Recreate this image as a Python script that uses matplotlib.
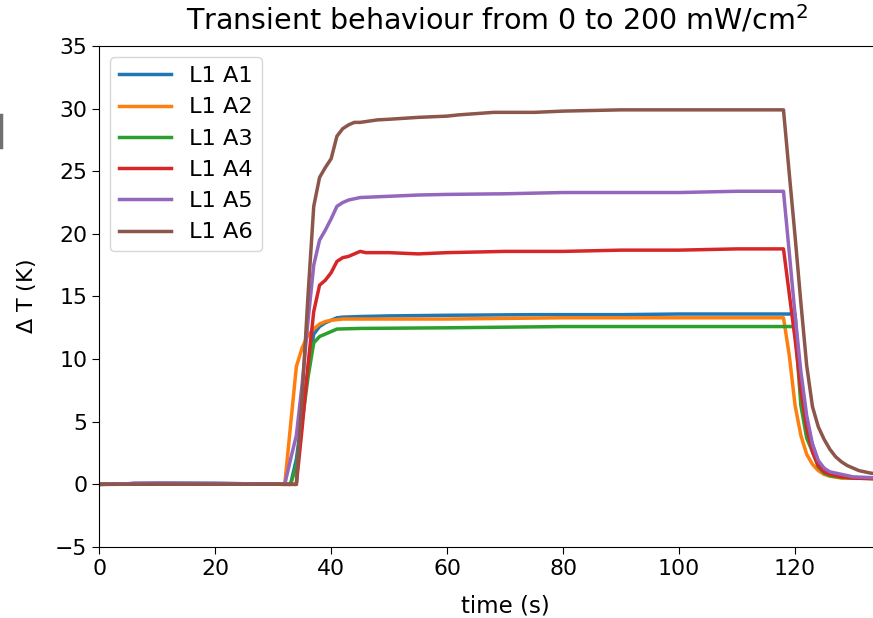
import matplotlib
matplotlib.use('Agg')
import matplotlib.pyplot as plt
from matplotlib.lines import Line2D

# datos (tiempo en s, Delta T en K)
t_a1 = [0, 5, 10, 20, 30, 33, 34, 35, 36, 37, 38, 39, 40, 41, 42, 45, 50, 60, 75, 90, 100, 110, 120,
        121, 122, 123, 124, 125, 126, 128, 130, 135]
a1 = [0, 0.05, 0.1, 0.08, 0.02, 0, 2, 5.5, 9, 12.0, 12.6, 12.9, 13.1, 13.3, 13.35, 13.4, 13.45, 13.5,
      13.55, 13.55, 13.6, 13.6, 13.6, 7.5, 4.6, 3.2, 1.8, 1.0, 0.8, 0.6, 0.5, 0.45]

t_a2 = [0, 5, 10, 20, 30, 32, 34, 35, 36, 37, 38, 39, 40, 42, 45, 60, 80, 100, 118,
        119, 120, 121, 122, 123, 124, 125, 126, 128, 135]
a2 = [0, 0.03, 0.05, 0.05, 0.02, 0, 9.4, 10.9, 11.9, 12.4, 12.8, 13.0, 13.1, 13.2, 13.2, 13.2, 13.3,
      13.3, 13.3, 10.3, 6.3, 3.9, 2.4, 1.6, 1.1, 0.8, 0.65, 0.5, 0.45]

t_a3 = [0, 10, 20, 30, 33, 34, 35, 36, 37, 38, 39, 40, 41, 45, 60, 80, 100, 120,
        121, 122, 123, 124, 125, 126, 128, 135]
a3 = [0, 0.05, 0.05, 0.02, 0, 1.5, 5, 8.5, 11.3, 11.8, 12.0, 12.2, 12.4, 12.45, 12.5, 12.6, 12.6, 12.6,
      6.3, 3.7, 2.6, 1.4, 0.9, 0.7, 0.55, 0.45]

t_a4 = [0, 10, 20, 30, 34, 35, 36, 37, 38, 39, 40, 41, 42, 43, 44, 45, 46, 50, 55, 60, 70, 80, 90,
        100, 110, 118, 119, 120, 121, 122, 123, 124, 125, 126, 128, 130, 135]
a4 = [0, 0.02, 0.03, 0.01, 0, 4.5, 9.5, 13.8, 15.9, 16.3, 16.9, 17.8, 18.1, 18.2, 18.4, 18.6, 18.5,
      18.5, 18.4, 18.5, 18.6, 18.6, 18.7, 18.7, 18.8, 18.8, 15.2, 11.6, 7.5, 4.5, 2.6, 1.5, 1.0, 0.8,
      0.6, 0.5, 0.45]

t_a5 = [0, 5, 6, 10, 20, 30, 32, 33, 34, 35, 36, 37, 38, 39, 40, 41, 42, 43, 45, 50, 55, 60, 70, 80,
        90, 100, 110, 118, 119, 120, 121, 122, 123, 124, 125, 126, 128, 130, 135]
a5 = [0, 0.05, 0.1, 0.1, 0.08, 0.02, 0, 2, 3.9, 8, 13, 17.5, 19.5, 20.3, 21.2, 22.2, 22.5, 22.7, 22.9,
      23.0, 23.1, 23.15, 23.2, 23.3, 23.3, 23.3, 23.4, 23.4, 18.5, 13.5, 9, 5.5, 3.2, 1.9, 1.3, 1.0,
      0.8, 0.6, 0.5]

t_a6 = [0, 10, 20, 30, 34, 35, 36, 37, 38, 39, 40, 41, 42, 43, 44, 45, 48, 50, 55, 60, 62, 65, 68,
        70, 75, 80, 90, 100, 110, 118, 119, 120, 121, 122, 123, 124, 125, 126, 127, 128, 129, 130,
        131, 132, 133, 135]
a6 = [0, 0.02, 0.02, 0.01, 0, 7, 15, 22.2, 24.5, 25.3, 26.0, 27.8, 28.4, 28.7, 28.9, 28.9, 29.1,
      29.15, 29.3, 29.4, 29.5, 29.6, 29.7, 29.7, 29.7, 29.8, 29.9, 29.9, 29.9, 29.9, 24.8, 19.8,
      14.5, 9.5, 6.2, 4.6, 3.6, 2.8, 2.2, 1.8, 1.5, 1.3, 1.1, 1.0, 0.9, 0.8]

series = [(t_a1, a1, 'L1 A1'), (t_a2, a2, 'L1 A2'), (t_a3, a3, 'L1 A3'),
          (t_a4, a4, 'L1 A4'), (t_a5, a5, 'L1 A5'), (t_a6, a6, 'L1 A6')]

fig = plt.figure(figsize=(8.73, 6.18), dpi=100)
# el eje se sale por la derecha, como en la figura recortada
ax = fig.add_axes([0.1136, 0.1149, 0.93, 0.8107])

for t, y, lab in series:
    ax.plot(t, y, lw=2.5, label=lab)

ax.set_xlim(0, 140)
ax.set_ylim(-5, 35)
ax.set_xticks([0, 20, 40, 60, 80, 100, 120])
ax.set_yticks(range(-5, 36, 5))
ax.tick_params(labelsize=15.8, length=5)
ax.set_xlabel('time (s)', fontsize=16.5, labelpad=11)
ax.set_ylabel(r'$\Delta$ T (K)', fontsize=16, labelpad=12)
fig.text(0.569, 0.952, r'Transient behaviour from 0 to 200 mW/cm$^2$', fontsize=20.5, ha='center')
ax.legend(loc='upper left', fontsize=16.2, handlelength=2.3)

# resto de la figura vecina en el borde izquierdo
fig.add_artist(Line2D([0.0015, 0.0015], [1 - 115/618, 1 - 147/618], color='#707070', lw=2.5))

plt.savefig('out.png', dpi=100)
